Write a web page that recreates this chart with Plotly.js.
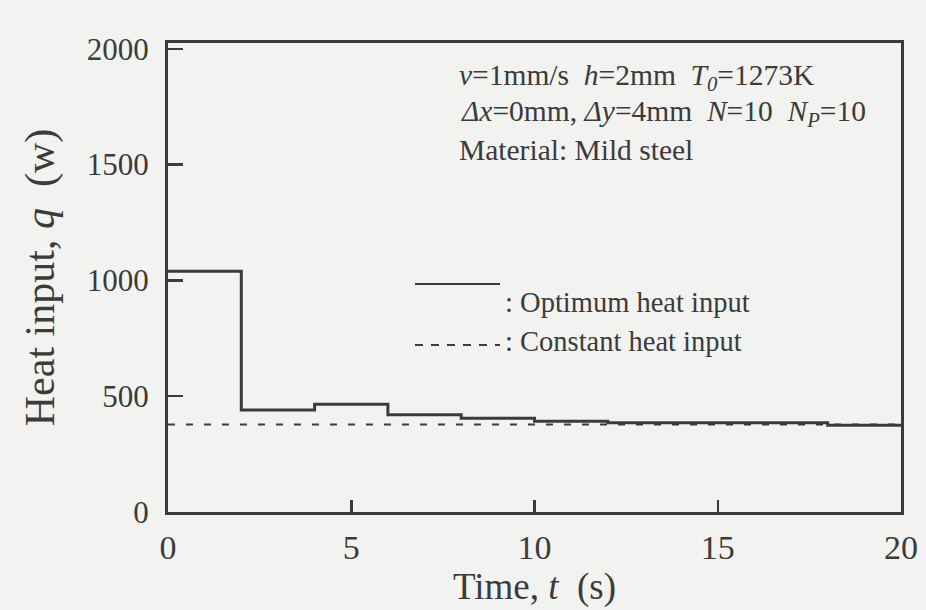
<!DOCTYPE html>
<html>
<head>
<meta charset="utf-8">
<script src="https://cdn.plot.ly/plotly-3.0.1.min.js"></script>
<style>
html,body{margin:0;padding:0;background:#f2f2f0;}
#chart{width:926px;height:610px;}
</style>
</head>
<body>
<div id="chart"></div>
<script>
// ---- data ----
const stepStart = [0, 2, 4, 6, 8, 10, 12, 14, 16, 18];          // s
const heatOptimum = [1040, 440, 465, 420, 405, 392, 385, 385, 385, 375]; // W
const tEnd = 20;
const constTime = [0, 20];
const constHeat = [378, 378];
const xTicks = [0, 5, 10, 15, 20];
const yTicks = [0, 500, 1000, 1500, 2000];

const ink = '#3b3b3b';
const serif = 'Liberation Serif, Times New Roman, DejaVu Serif, serif';

const optX = stepStart.concat([tEnd]);
const optY = heatOptimum.concat([heatOptimum[heatOptimum.length - 1]]);

const traces = [
  {x: constTime, y: constHeat, mode: 'lines', name: 'Constant heat input',
   line: {color: ink, width: 2, dash: '7px,11px'}, hoverinfo: 'skip', showlegend: false},
  {x: optX, y: optY, mode: 'lines', name: 'Optimum heat input',
   line: {color: ink, width: 3, shape: 'hv'}, hoverinfo: 'skip', showlegend: false}
];

const L = 168, R = 901, T = 43, B = 512;
function px(x){ return (x - L) / (R - L); }
function py(y){ return (B - y) / (B - T); }

const annFont = {family: serif, size: 29.5, color: ink};
const legFont = {family: serif, size: 28.5, color: ink};
const layout = {
  width: 926, height: 610,
  margin: {l: L, r: 926 - R, t: T, b: 610 - B},
  paper_bgcolor: '#f2f2f0', plot_bgcolor: '#f2f2f0',
  font: {family: serif, color: ink},
  showlegend: false,
  xaxis: {
    range: [0, 20], tickvals: xTicks, ticktext: xTicks.map(String),
    ticks: 'inside', ticklen: 12, tickwidth: 2.5, tickcolor: ink,
    showline: true, linewidth: 3, linecolor: ink, mirror: true,
    showgrid: false, zeroline: false, ticklabelstandoff: 3,
    tickfont: {family: serif, size: 34, color: ink},
    title: {text: 'Time, <i>t</i>  (s)', font: {family: serif, size: 37, color: ink}, standoff: 4}
  },
  yaxis: {
    range: [0, 2025], tickvals: yTicks, ticktext: yTicks.map(String),
    ticks: 'inside', ticklen: 15, tickwidth: 2.5, tickcolor: ink,
    showline: true, linewidth: 3, linecolor: ink, mirror: true,
    showgrid: false, zeroline: false, ticklabelstandoff: 10,
    tickfont: {family: serif, size: 31, color: ink},
    title: {text: 'Heat input, <i>q</i>  (w)', font: {family: serif, size: 42, color: ink}, standoff: 20}
  },
  shapes: [
    {type: 'line', xref: 'paper', yref: 'paper', x0: px(415), x1: px(500), y0: py(284), y1: py(284),
     line: {color: ink, width: 2}},
    {type: 'line', xref: 'paper', yref: 'paper', x0: px(415), x1: px(500), y0: py(345), y1: py(345),
     line: {color: ink, width: 2, dash: '8px,8px'}}
  ],
  annotations: [
    {xref: 'paper', yref: 'paper', x: px(457), y: py(77), xanchor: 'left', yanchor: 'middle', showarrow: false,
     text: '<i>v</i>=1mm/s  <i>h</i>=2mm  <i>T<sub>0</sub></i>=1273K', font: annFont},
    {xref: 'paper', yref: 'paper', x: px(459), y: py(113), xanchor: 'left', yanchor: 'middle', showarrow: false,
     text: '<i>Δx</i>=0mm, <i>Δy</i>=4mm  <i>N</i>=10  <i>N<sub>P</sub></i>=10', font: annFont},
    {xref: 'paper', yref: 'paper', x: px(457), y: py(150), xanchor: 'left', yanchor: 'middle', showarrow: false,
     text: 'Material: Mild steel', font: annFont},
    {xref: 'paper', yref: 'paper', x: px(503), y: py(302), xanchor: 'left', yanchor: 'middle', showarrow: false,
     text: ': Optimum heat input', font: legFont},
    {xref: 'paper', yref: 'paper', x: px(503), y: py(341), xanchor: 'left', yanchor: 'middle', showarrow: false,
     text: ': Constant heat input', font: legFont}
  ]
};

Plotly.newPlot('chart', traces, layout, {displayModeBar: false, staticPlot: true});
</script>
</body>
</html>
